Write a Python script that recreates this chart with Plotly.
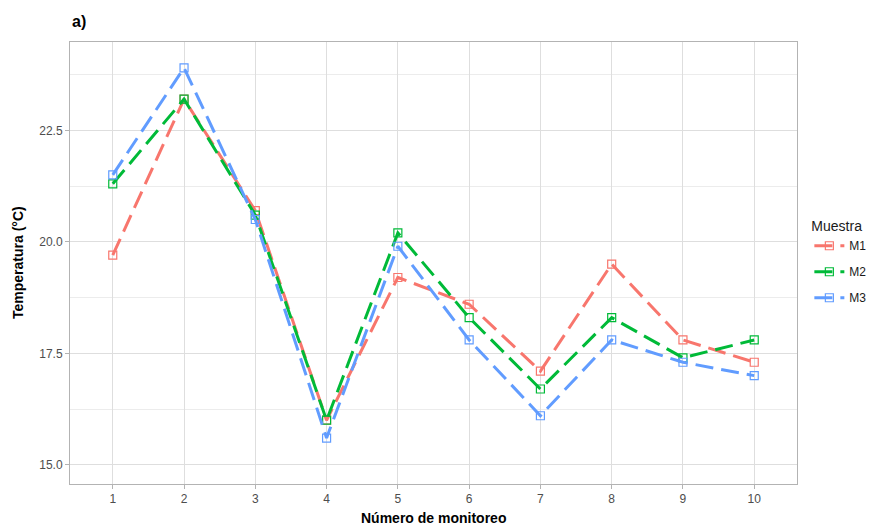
import plotly.graph_objects as go

monitoreo = [1, 2, 3, 4, 5, 6, 7, 8, 9, 10]
m1 = [19.7, 23.2, 20.7, 16.0, 19.2, 18.6, 17.1, 19.5, 17.8, 17.3]
m2 = [21.3, 23.2, 20.6, 16.0, 20.2, 18.3, 16.7, 18.3, 17.4, 17.8]
m3 = [21.5, 23.9, 20.5, 15.6, 19.9, 17.8, 16.1, 17.8, 17.3, 17.0]
series = [("M1", m1, "#F8766D"), ("M2", m2, "#00BA38"), ("M3", m3, "#619CFF")]
y_ticks = [15.0, 17.5, 20.0, 22.5]

fig = go.Figure()
for name, vals, col in series:
    fig.add_trace(go.Scatter(
        x=monitoreo, y=vals, name=name, legendgroup=name, mode="lines+markers",
        line=dict(color=col, width=3, dash="18px,8px"),
        marker=dict(symbol="square-open", size=8, color=col, line=dict(width=1.2)),
    ))

grid = "#dedede"
border = "#b3b3b3"
fig.update_layout(
    width=891, height=527,
    margin=dict(l=62, r=102, t=34, b=51),
    paper_bgcolor="white", plot_bgcolor="white",
    font=dict(family="Liberation Sans, Arial, sans-serif", color="#4d4d4d", size=12),
    legend=dict(
        title=dict(text="Muestra", font=dict(size=14, color="#1a1a1a")),
        font=dict(size=12, color="#1a1a1a"),
        x=1.017, xanchor="left", y=0.613, yanchor="top",
        tracegroupgap=7,
    ),
    xaxis=dict(
        range=[0.4, 10.6], tickmode="array", tickvals=monitoreo,
        ticktext=[str(v) for v in monitoreo],
        showgrid=True, gridcolor=grid, gridwidth=1,
        showline=True, mirror=True, linecolor=border, linewidth=1,
        ticks="outside", ticklen=4, tickcolor=border, zeroline=False,
        tickfont=dict(size=12, color="#4d4d4d"),
    ),
    yaxis=dict(
        range=[14.57, 24.48], tickmode="array", tickvals=y_ticks,
        ticktext=[f"{v:.1f}" for v in y_ticks],
        showgrid=True, gridcolor=grid, gridwidth=1,
        minor=dict(tickmode="array", tickvals=[16.25, 18.75, 21.25, 23.75],
                   showgrid=True, gridcolor="#ececec", gridwidth=1, ticks=""),
        showline=True, mirror=True, linecolor=border, linewidth=1,
        ticks="outside", ticklen=4, tickcolor=border, zeroline=False,
        tickfont=dict(size=12, color="#4d4d4d"),
    ),
    annotations=[
        dict(text="<b>a)</b>", xref="paper", yref="paper", x=0, y=1, yshift=10,
             xanchor="left", yanchor="bottom", showarrow=False,
             font=dict(size=16, color="#000000")),
        dict(text="<b>Temperatura (°C)</b>", xref="paper", yref="paper",
             x=0, xshift=-52, y=0.5, textangle=-90, showarrow=False,
             xanchor="center", yanchor="middle",
             font=dict(size=14, color="#000000")),
        dict(text="<b>Número de monitoreo</b>", xref="paper", yref="paper",
             x=0.5, y=0, yshift=-34, showarrow=False,
             xanchor="center", yanchor="middle",
             font=dict(size=14, color="#000000")),
    ],
)

fig.write_html("out.html")
